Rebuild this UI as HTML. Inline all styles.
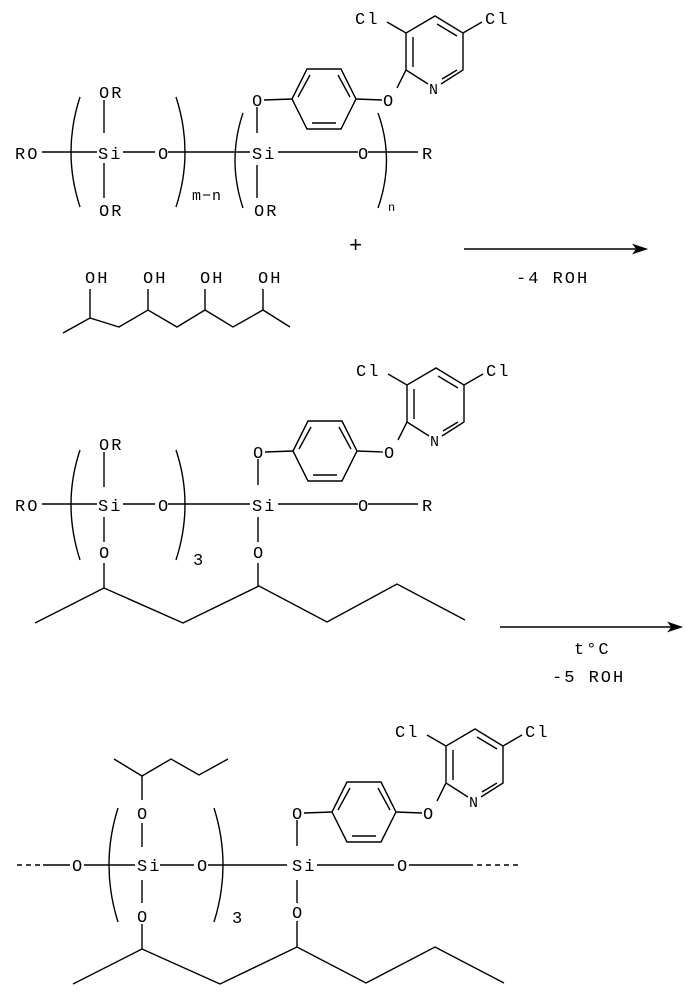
<!DOCTYPE html>
<html><head><meta charset="utf-8"><style>
html,body{margin:0;padding:0;background:#fff}
svg{display:block}
text{font-family:"Liberation Mono",monospace;font-size:17px;letter-spacing:2px;fill:#000}
line,polyline,path{stroke:#000;stroke-width:1.4;fill:none}
</style></head><body>
<svg width="688" height="998" viewBox="0 0 688 998" xmlns="http://www.w3.org/2000/svg">
<defs>
<g id="ar">
  <text x="252" y="106">O</text>
  <line x1="257" y1="107" x2="257" y2="133"/>
  <line x1="264" y1="100" x2="292" y2="99"/>
  <polygon points="292,99 307,69 341,69 356,99 341,129 307,129" style="stroke:#000;stroke-width:1.4;fill:none"/>
  <line x1="298" y1="97" x2="310" y2="75"/>
  <line x1="338" y1="75" x2="350" y2="97"/>
  <line x1="312" y1="123" x2="336" y2="123"/>
  <line x1="356" y1="99" x2="382" y2="100"/>
  <text x="383" y="106">O</text>
  <line x1="397" y1="88" x2="406" y2="70"/>
  <polyline points="428,84 406,70 406,33 435,16 463,33 463,70 441,84"/>
  <line x1="413" y1="67" x2="413" y2="37"/>
  <line x1="437" y1="24" x2="457" y2="36"/>
  <line x1="442" y1="79" x2="457" y2="70"/>
  <text x="429" y="94" style="font-size:15px">N</text>
  <text x="355" y="24">Cl</text>
  <line x1="387" y1="22" x2="406" y2="33"/>
  <text x="485" y="24">Cl</text>
  <line x1="463" y1="33" x2="482" y2="22"/>
</g>
</defs>

<use href="#ar"/>
<text x="15" y="159">RO</text>
<line x1="42" y1="152" x2="97" y2="152"/>
<text x="98" y="159">Si</text>
<line x1="123" y1="152" x2="155" y2="152"/>
<text x="158" y="159">O</text>
<line x1="168" y1="152" x2="250" y2="152"/>
<text x="252" y="159">Si</text>
<line x1="278" y1="152" x2="358" y2="152"/>
<text x="358" y="159">O</text>
<line x1="368" y1="152" x2="418" y2="152"/>
<text x="422" y="159">R</text>
<text x="99" y="98">OR</text>
<line x1="104" y1="100" x2="104" y2="133"/>
<line x1="104" y1="163" x2="104" y2="198"/>
<text x="99" y="216">OR</text>
<line x1="257" y1="165" x2="257" y2="198"/>
<text x="254" y="216">OR</text>
<path d="M80,97 Q62,152 80,207"/>
<path d="M176,97 Q194,152 176,207"/>
<path d="M243,113 Q227,160 243,208"/>
<path d="M378,113 Q395,160 378,208"/>
<text x="192" y="200" style="font-size:15px;letter-spacing:1px">m−n</text>
<text x="388" y="211" style="font-size:12px">n</text>

<text x="349" y="252" style="font-size:22px">+</text>
<line x1="464" y1="249" x2="640" y2="249"/>
<path d="M646,249 L634,245 L637,249 L634,253 Z" style="fill:#000"/>
<text x="516" y="283">-4 ROH</text>

<text x="85" y="283">OH</text>
<text x="143" y="283">OH</text>
<text x="200" y="283">OH</text>
<text x="258" y="283">OH</text>
<polyline points="63,333 90,318 119,327 148,310 177,327 205,310 233,327 263,310 290,327"/>
<line x1="90" y1="289" x2="90" y2="318"/>
<line x1="148" y1="289" x2="148" y2="310"/>
<line x1="205" y1="289" x2="205" y2="310"/>
<line x1="263" y1="289" x2="263" y2="310"/>

<use href="#ar" transform="translate(1,352)"/>
<text x="15" y="511">RO</text>
<line x1="42" y1="504" x2="97" y2="504"/>
<text x="98" y="511">Si</text>
<line x1="123" y1="504" x2="155" y2="504"/>
<text x="158" y="511">O</text>
<line x1="168" y1="504" x2="250" y2="504"/>
<text x="252" y="511">Si</text>
<line x1="278" y1="504" x2="358" y2="504"/>
<text x="358" y="511">O</text>
<line x1="368" y1="504" x2="418" y2="504"/>
<text x="422" y="511">R</text>
<text x="99" y="450">OR</text>
<line x1="104" y1="452" x2="104" y2="487"/>
<line x1="104" y1="517" x2="104" y2="542"/>
<text x="99" y="558">O</text>
<line x1="104" y1="563" x2="104" y2="588"/>
<line x1="258" y1="517" x2="258" y2="542"/>
<text x="253" y="558">O</text>
<line x1="258" y1="563" x2="258" y2="586"/>
<path d="M80,450 Q62,504 80,560"/>
<path d="M176,450 Q194,504 176,560"/>
<text x="193" y="565">3</text>
<polyline points="35,623 104,588 183,623 259,586 327,622 397,584 465,620"/>

<line x1="500" y1="627" x2="675" y2="627"/>
<path d="M681,627 L669,623 L672,627 L669,631 Z" style="fill:#000"/>
<text x="574" y="654">t°C</text>
<text x="552" y="682">-5 ROH</text>

<use href="#ar" transform="translate(40,713)"/>
<line x1="17" y1="865" x2="43" y2="865" style="stroke-dasharray:5,4"/>
<line x1="43" y1="865" x2="70" y2="865"/>
<text x="72" y="871">O</text>
<line x1="84" y1="865" x2="135" y2="865"/>
<text x="137" y="871">Si</text>
<line x1="160" y1="865" x2="194" y2="865"/>
<text x="197" y="871">O</text>
<line x1="208" y1="865" x2="287" y2="865"/>
<text x="292" y="871">Si</text>
<line x1="317" y1="865" x2="394" y2="865"/>
<text x="397" y="871">O</text>
<line x1="409" y1="865" x2="468" y2="865"/>
<line x1="468" y1="865" x2="520" y2="865" style="stroke-dasharray:5,4"/>
<path d="M118,808 Q100,865 118,922"/>
<path d="M214,808 Q232,865 214,922"/>
<text x="232" y="923">3</text>
<polyline points="114,759 142,776 171,759 199,775 228,759"/>
<line x1="142" y1="776" x2="142" y2="800"/>
<text x="137" y="819">O</text>
<line x1="142" y1="823" x2="142" y2="847"/>
<line x1="142" y1="880" x2="142" y2="903"/>
<text x="137" y="922">O</text>
<line x1="142" y1="924" x2="142" y2="949"/>
<line x1="297" y1="880" x2="297" y2="903"/>
<text x="292" y="918">O</text>
<line x1="297" y1="921" x2="297" y2="947"/>
<polyline points="73,984 142,949 220,984 297,947 366,983 435,947 504,983"/>
</svg>
</body></html>
